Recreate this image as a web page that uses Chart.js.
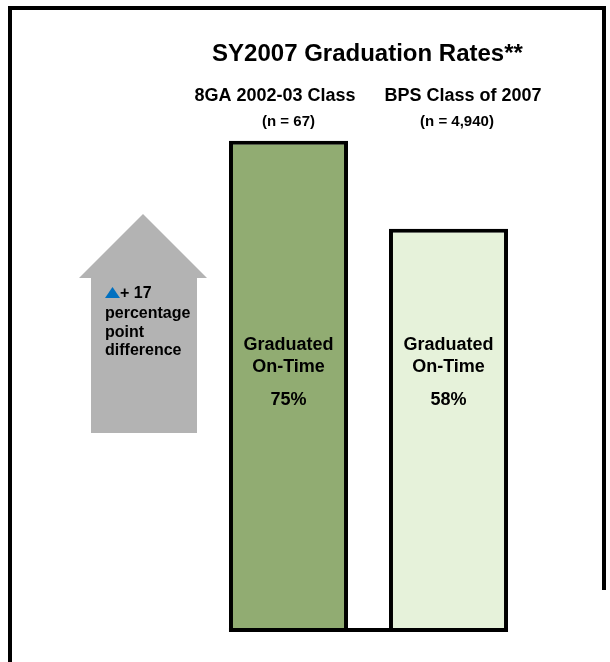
<!DOCTYPE html>
<html>
<head>
<meta charset="utf-8">
<script src="https://cdn.jsdelivr.net/npm/chart.js@4.4.1/dist/chart.umd.min.js"></script>
<style>
    html, body { margin: 0; padding: 0; background: #ffffff; }
    #wrap { width: 610px; height: 662px; }
</style>
</head>
<body>
<div id="wrap"><canvas id="myChart" width="610" height="662"></canvas></div>
<script>
// chart data
var groups = ['8GA 2002-03 Class', 'BPS Class of 2007'];
var groupSizes = ['(n = 67)', '(n = 4,940)'];
var onTimeRates = [75, 58];
var barText = ['Graduated', 'On-Time'];
var titleText = 'SY2007 Graduation Rates**';
var diffText = ['percentage', 'point', 'difference'];
var axisMin = -20;
var axisMax = 80;

var textColor = '#000000';
var fontFamily = '"Liberation Sans", Arial, sans-serif';
var barColors = ['#91ac72', '#e6f2da'];

function bold(size) {
    return 'bold ' + size + 'px ' + fontFamily;
}

var decorations = {
    id: 'decorations',
    beforeDraw: function (chart) {
        var c = chart.ctx;
        c.save();
        c.fillStyle = '#ffffff';
        c.fillRect(0, 0, chart.width, chart.height);

        // frame
        c.fillStyle = '#000000';
        c.fillRect(8, 6, 598, 4);
        c.fillRect(8, 6, 4, 656);
        c.fillRect(602, 6, 4, 584);

        // grey arrow
        c.fillStyle = '#b3b3b3';
        c.beginPath();
        c.moveTo(143, 214);
        c.lineTo(207, 278);
        c.lineTo(197, 278);
        c.lineTo(197, 433);
        c.lineTo(91, 433);
        c.lineTo(91, 278);
        c.lineTo(79, 278);
        c.closePath();
        c.fill();

        // difference note on the arrow
        c.fillStyle = '#0070c0';
        c.beginPath();
        c.moveTo(105, 298);
        c.lineTo(120, 298);
        c.lineTo(112.5, 287);
        c.closePath();
        c.fill();

        c.fillStyle = textColor;
        c.font = bold(16);
        c.textAlign = 'left';
        c.textBaseline = 'alphabetic';
        c.fillText('+ ' + (onTimeRates[0] - onTimeRates[1]), 120, 298);
        diffText.forEach(function (t, i) {
            c.fillText(t, 105, 318 + i * 18.5);
        });
        c.restore();
    },
    afterDatasetsDraw: function (chart) {
        var c = chart.ctx;
        var meta = chart.getDatasetMeta(0);
        var xs = chart.scales.x;
        var area = chart.chartArea;
        c.save();

        // base line joining the two bars
        var first = meta.data[0], last = meta.data[meta.data.length - 1];
        var x0 = first.x - first.width / 2;
        var x1 = last.x + last.width / 2;
        c.fillStyle = '#000000';
        c.fillRect(x0, area.bottom - 4, x1 - x0, 4);

        c.fillStyle = textColor;
        c.textAlign = 'center';
        c.textBaseline = 'alphabetic';

        // title
        c.font = bold(24);
        c.fillText(titleText, (area.left + area.right) / 2 - 1, 61);

        // group headers
        var headShift = [-13.5, 14.5];
        var sizeShift = [0, 8.5];
        groups.forEach(function (g, i) {
            var x = xs.getPixelForValue(i);
            c.font = bold(18);
            c.fillText(g, x + headShift[i], 101);
            c.font = bold(15);
            c.fillText(groupSizes[i], x + sizeShift[i], 125.5);
        });

        // text inside the bars
        meta.data.forEach(function (bar, i) {
            c.font = bold(18);
            c.fillText(barText[0], bar.x, 350);
            c.fillText(barText[1], bar.x, 372);
            c.fillText(onTimeRates[i] + '%', bar.x, 405);
        });
        c.restore();
    }
};

new Chart(document.getElementById('myChart'), {
    type: 'bar',
    data: {
        labels: groups,
        datasets: [{
            label: 'Graduated On-Time',
            data: onTimeRates,
            base: axisMin,
            backgroundColor: barColors,
            borderColor: '#000000',
            borderWidth: 4,
            borderSkipped: false,
            barPercentage: 0.744,
            categoryPercentage: 1
        }]
    },
    options: {
        responsive: false,
        animation: false,
        layout: {
            padding: { top: 115, bottom: 30, left: 208.5, right: 81.5 }
        },
        scales: {
            x: { display: false },
            y: { display: false, min: axisMin, max: axisMax }
        },
        plugins: {
            legend: { display: false },
            tooltip: { enabled: false }
        }
    },
    plugins: [decorations]
});
</script>
</body>
</html>
